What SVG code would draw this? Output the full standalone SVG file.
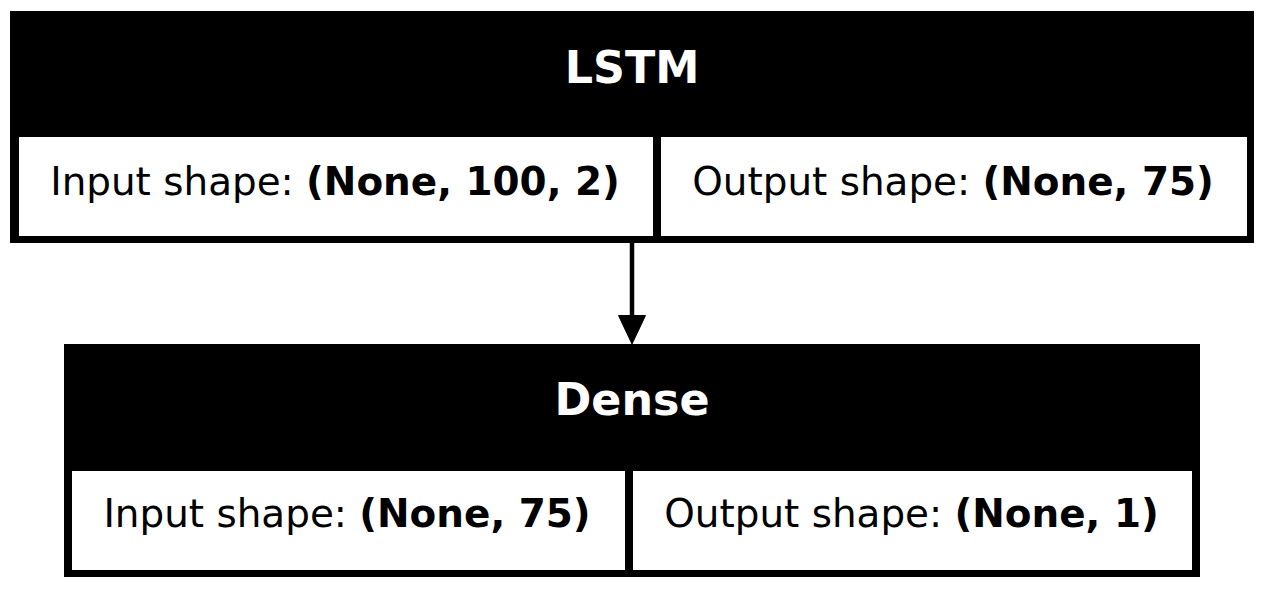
<svg xmlns="http://www.w3.org/2000/svg" width="1264" height="589" viewBox="0 0 1264 589">
  <style>
    .frame { fill: #000000; }
    .cell { fill: #ffffff; }
    .title { font-family: "DejaVu Sans", sans-serif; font-weight: bold; font-size: 44.4px; fill: #ffffff; text-anchor: middle; }
    .label { font-family: "DejaVu Sans", sans-serif; font-size: 38.9px; fill: #000000; text-anchor: middle; }
    .label .val { font-weight: bold; }
    .edge { stroke: #000000; stroke-width: 4.5; fill: none; }
    .head { fill: #000000; stroke: #000000; stroke-width: 1; }
  </style>
  <rect width="1264" height="589" fill="#ffffff"/>

  <!-- LSTM layer -->
  <g id="lstm">
    <rect class="frame" x="10" y="11" width="1244" height="232"/>
    <rect class="cell" x="19" y="137" width="634" height="99"/>
    <rect class="cell" x="661" y="137" width="586" height="99"/>
    <text class="title" x="632" y="82.5">LSTM</text>
    <text class="label" x="335" y="195">Input shape: <tspan class="val">(None, 100, 2)</tspan></text>
    <text class="label" x="953" y="195">Output shape: <tspan class="val">(None, 75)</tspan></text>
  </g>

  <!-- Dense layer -->
  <g id="dense">
    <rect class="frame" x="64" y="344" width="1136" height="233"/>
    <rect class="cell" x="72" y="471" width="553" height="99"/>
    <rect class="cell" x="633" y="471" width="559" height="99"/>
    <text class="title" x="632" y="415">Dense</text>
    <text class="label" x="347" y="527">Input shape: <tspan class="val">(None, 75)</tspan></text>
    <text class="label" x="911.5" y="527">Output shape: <tspan class="val">(None, 1)</tspan></text>
  </g>

  <!-- connectors -->
  <g id="edges">
    <line class="edge" x1="632" y1="243" x2="632" y2="316"/>
    <polygon class="head" points="618.5,315.5 645.5,315.5 632,344"/>
  </g>
</svg>
